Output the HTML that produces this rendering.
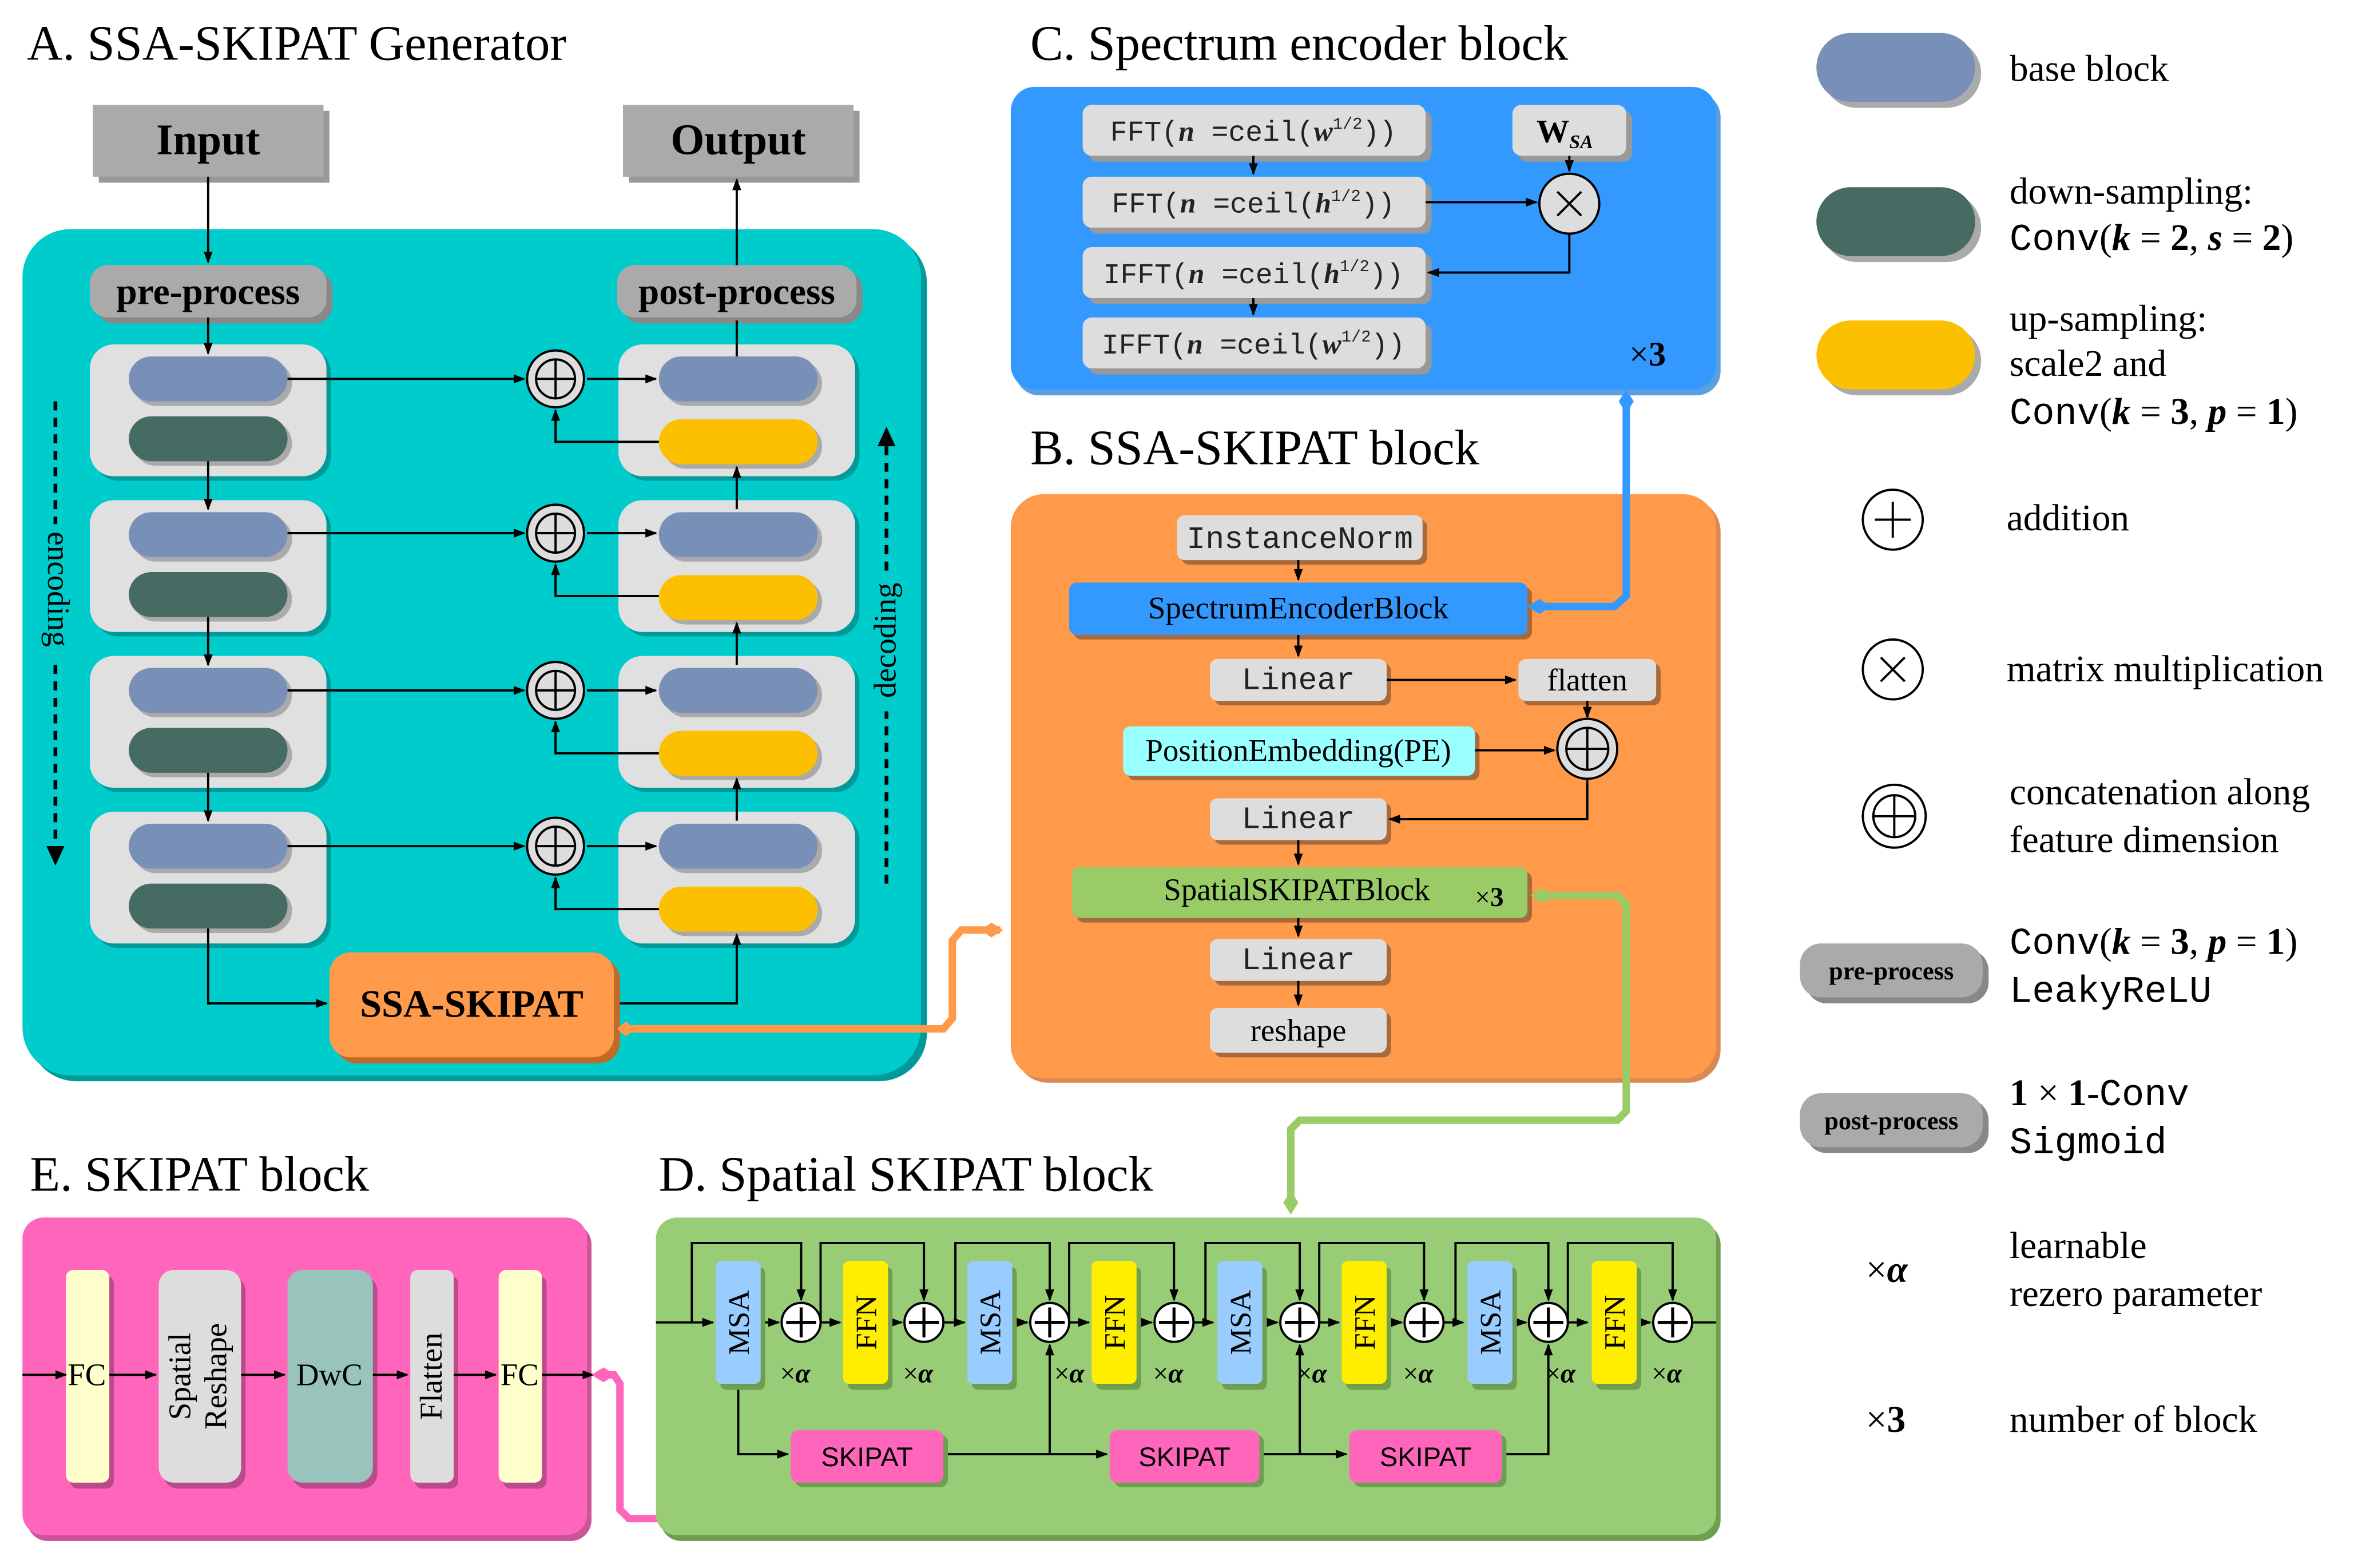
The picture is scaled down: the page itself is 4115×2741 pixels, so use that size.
<!DOCTYPE html>
<html><head><meta charset="utf-8"><style>html,body{margin:0;padding:0;background:#fff}svg{display:block}</style></head>
<body>
<svg width="4115" height="2741" viewBox="0 0 1572 1047" preserveAspectRatio="none" xmlns="http://www.w3.org/2000/svg" font-family="Liberation Serif, serif">
<defs>
<marker id="ar" markerWidth="8" markerHeight="8" refX="7" refY="4" orient="auto" markerUnits="userSpaceOnUse"><path d="M0,1 L8,4 L0,7 Z" fill="#000"/></marker>
</defs>
<rect width="1572" height="1047" fill="#fff"/>

<!-- ===== A ===== -->
<text x="18" y="40" font-size="33">A. SSA-SKIPAT Generator</text>
<rect x="19" y="157" width="600" height="565" rx="32" fill="#009a9a"/>
<rect x="15" y="153" width="600" height="565" rx="32" fill="#00cccc"/>
<rect x="66" y="74" width="154" height="48" fill="#999"/><rect x="62" y="70" width="154" height="48" fill="#aaa"/>
<text x="139" y="103" font-size="29" font-weight="bold" text-anchor="middle">Input</text>
<rect x="420" y="74" width="154" height="48" fill="#999"/><rect x="416" y="70" width="154" height="48" fill="#aaa"/>
<text x="493" y="103" font-size="29" font-weight="bold" text-anchor="middle">Output</text>
<rect x="64" y="181" width="158" height="35" rx="12" fill="#888"/><rect x="60" y="177" width="158" height="35" rx="12" fill="#aaa"/>
<text x="139" y="203" font-size="25" font-weight="bold" text-anchor="middle">pre-process</text>
<rect x="416" y="181" width="160" height="35" rx="12" fill="#888"/><rect x="412" y="177" width="160" height="35" rx="12" fill="#aaa"/>
<text x="492" y="203" font-size="25" font-weight="bold" text-anchor="middle">post-process</text>
<line x1="139" y1="118" x2="139" y2="175" stroke="#000" stroke-width="1.5" marker-end="url(#ar)"/>
<line x1="492" y1="177" x2="492" y2="120" stroke="#000" stroke-width="1.5" marker-end="url(#ar)"/>

<g id="rows">
<g>
<rect x="63" y="233" width="158" height="88" rx="16" fill="#009a9a"/><rect x="60" y="230" width="158" height="88" rx="16" fill="#e0e0e0"/>
<rect x="89" y="241" width="106" height="30" rx="15" fill="#aaa"/><rect x="86" y="238" width="106" height="30" rx="15" fill="#7890b8"/>
<rect x="89" y="281" width="106" height="30" rx="15" fill="#aaa"/><rect x="86" y="278" width="106" height="30" rx="15" fill="#456b63"/>
<rect x="416" y="233" width="158" height="88" rx="16" fill="#009a9a"/><rect x="413" y="230" width="158" height="88" rx="16" fill="#e0e0e0"/>
<rect x="443" y="241" width="106" height="30" rx="15" fill="#aaa"/><rect x="440" y="238" width="106" height="30" rx="15" fill="#7890b8"/>
<rect x="443" y="283" width="106" height="30" rx="15" fill="#aaa"/><rect x="440" y="280" width="106" height="30" rx="15" fill="#fcc000"/>
</g>
</g>
<use href="#rows" y="104"/><use href="#rows" y="208"/><use href="#rows" y="312"/>

<g stroke="#000" stroke-width="1.5" fill="none">
<line x1="192" y1="253" x2="350" y2="253" marker-end="url(#ar)"/><line x1="392" y1="253" x2="438" y2="253" marker-end="url(#ar)"/>
<line x1="192" y1="356" x2="350" y2="356" marker-end="url(#ar)"/><line x1="392" y1="356" x2="438" y2="356" marker-end="url(#ar)"/>
<line x1="192" y1="461" x2="350" y2="461" marker-end="url(#ar)"/><line x1="392" y1="461" x2="438" y2="461" marker-end="url(#ar)"/>
<line x1="192" y1="565" x2="350" y2="565" marker-end="url(#ar)"/><line x1="392" y1="565" x2="438" y2="565" marker-end="url(#ar)"/>
<polyline points="440,295 371,295 371,274" marker-end="url(#ar)"/>
<polyline points="440,398 371,398 371,377" marker-end="url(#ar)"/>
<polyline points="440,503 371,503 371,482" marker-end="url(#ar)"/>
<polyline points="440,607 371,607 371,586" marker-end="url(#ar)"/>
<line x1="139" y1="212" x2="139" y2="236" marker-end="url(#ar)"/>
<line x1="139" y1="308" x2="139" y2="340" marker-end="url(#ar)"/>
<line x1="139" y1="412" x2="139" y2="444" marker-end="url(#ar)"/>
<line x1="139" y1="516" x2="139" y2="548" marker-end="url(#ar)"/>
<line x1="492" y1="238" x2="492" y2="214"/>
<line x1="492" y1="340" x2="492" y2="312" marker-end="url(#ar)"/>
<line x1="492" y1="444" x2="492" y2="416" marker-end="url(#ar)"/>
<line x1="492" y1="548" x2="492" y2="520" marker-end="url(#ar)"/>
<polyline points="139,620 139,670 218,670" marker-end="url(#ar)"/>
<polyline points="410,670 492,670 492,624" marker-end="url(#ar)"/>
<line x1="37" y1="268" x2="37" y2="575" stroke-dasharray="6,5" stroke-width="2.5"/>
<line x1="592" y1="590" x2="592" y2="288" stroke-dasharray="6,5" stroke-width="2.5"/>
</g>
<path d="M31,565 L43,565 L37,578 Z"/><path d="M586,298 L598,298 L592,285 Z"/>
<rect x="30" y="350" width="16" height="90" fill="#00cccc"/><rect x="584" y="385" width="16" height="90" fill="#00cccc"/>
<text font-size="21" transform="translate(32,355) rotate(90)">encoding</text>
<text font-size="21" transform="translate(598,466) rotate(-90)">decoding</text>
<g id="cp"><circle cx="371" cy="253" r="19" fill="#ddd" stroke="#000" stroke-width="1.5"/><circle cx="371" cy="253" r="13" fill="none" stroke="#000" stroke-width="1.5"/><line x1="358" y1="253" x2="384" y2="253" stroke="#000" stroke-width="1.5"/><line x1="371" y1="240" x2="371" y2="266" stroke="#000" stroke-width="1.5"/></g>
<use href="#cp" y="103"/><use href="#cp" y="208"/><use href="#cp" y="312"/>
<rect x="224" y="640" width="190" height="70" rx="14" fill="#c06a28"/><rect x="220" y="636" width="190" height="70" rx="14" fill="#ff9a4a"/>
<text x="315" y="679" font-size="26" font-weight="bold" text-anchor="middle">SSA-SKIPAT</text>

<polyline points="414,687 630,687 636,680 636,628 642,621 668,621" fill="none" stroke="#ff9a4a" stroke-width="5"/>
<path d="M412,687 L418,682 L424,687 L418,692Z" fill="#ff9a4a"/><path d="M655,621 L662,616 L670,621 L662,626Z" fill="#ff9a4a"/>

<!-- ===== C ===== -->
<text x="688" y="40" font-size="33">C. Spectrum encoder block</text>
<rect x="678" y="62" width="471" height="202" rx="16" fill="#5aa0e0"/>
<rect x="675" y="58" width="471" height="202" rx="16" fill="#3399ff"/>
<g font-family="Liberation Mono, monospace" font-size="19" fill="#222">
<rect x="727" y="74" width="229" height="34" rx="6" fill="#999"/><rect x="723" y="70" width="229" height="34" rx="6" fill="#ddd"/>
<text x="837" y="94" text-anchor="middle">FFT(<tspan font-family="Liberation Serif" font-style="italic" font-weight="bold">n</tspan> =ceil(<tspan font-family="Liberation Serif" font-style="italic" font-weight="bold">w</tspan><tspan font-size="11" dy="-8">1/2</tspan><tspan dy="8">))</tspan></text>
<rect x="727" y="122" width="229" height="34" rx="6" fill="#999"/><rect x="723" y="118" width="229" height="34" rx="6" fill="#ddd"/>
<text x="837" y="142" text-anchor="middle">FFT(<tspan font-family="Liberation Serif" font-style="italic" font-weight="bold">n</tspan> =ceil(<tspan font-family="Liberation Serif" font-style="italic" font-weight="bold">h</tspan><tspan font-size="11" dy="-8">1/2</tspan><tspan dy="8">))</tspan></text>
<rect x="727" y="169" width="229" height="34" rx="6" fill="#999"/><rect x="723" y="165" width="229" height="34" rx="6" fill="#ddd"/>
<text x="837" y="189" text-anchor="middle">IFFT(<tspan font-family="Liberation Serif" font-style="italic" font-weight="bold">n</tspan> =ceil(<tspan font-family="Liberation Serif" font-style="italic" font-weight="bold">h</tspan><tspan font-size="11" dy="-8">1/2</tspan><tspan dy="8">))</tspan></text>
<rect x="727" y="216" width="229" height="34" rx="6" fill="#999"/><rect x="723" y="212" width="229" height="34" rx="6" fill="#ddd"/>
<text x="837" y="236" text-anchor="middle">IFFT(<tspan font-family="Liberation Serif" font-style="italic" font-weight="bold">n</tspan> =ceil(<tspan font-family="Liberation Serif" font-style="italic" font-weight="bold">w</tspan><tspan font-size="11" dy="-8">1/2</tspan><tspan dy="8">))</tspan></text>
</g>
<rect x="1014" y="74" width="76" height="34" rx="6" fill="#999"/><rect x="1010" y="70" width="76" height="34" rx="6" fill="#ddd"/>
<text x="1026" y="95" font-size="22" font-weight="bold">W<tspan font-size="13" font-style="italic" dy="4">SA</tspan></text>
<g stroke="#000" stroke-width="1.5" fill="none">
<line x1="837" y1="104" x2="837" y2="116" marker-end="url(#ar)"/>
<line x1="837" y1="199" x2="837" y2="210" marker-end="url(#ar)"/>
<line x1="952" y1="135" x2="1026" y2="135" marker-end="url(#ar)"/>
<line x1="1048" y1="104" x2="1048" y2="114" marker-end="url(#ar)"/>
<polyline points="1048,156 1048,182 954,182" marker-end="url(#ar)"/>
</g>
<circle cx="1048" cy="136" r="20" fill="#ddd" stroke="#000" stroke-width="1.5"/>
<path d="M1040,128 L1056,144 M1056,128 L1040,144" stroke="#000" stroke-width="1.5"/>
<text x="1088" y="244" font-size="23">×<tspan font-weight="bold">3</tspan></text>

<!-- ===== B ===== -->
<text x="688" y="310" font-size="33">B. SSA-SKIPAT block</text>
<rect x="678" y="333" width="471" height="390" rx="22" fill="#d88a52"/>
<rect x="675" y="330" width="471" height="390" rx="22" fill="#ff9a4a"/>
<g font-size="21">
<rect x="789" y="347" width="164" height="30" rx="5" fill="#a86a3a"/><rect x="786" y="344" width="164" height="30" rx="5" fill="#ddd"/>
<text x="868" y="366" text-anchor="middle" font-family="Liberation Mono, monospace" fill="#222">InstanceNorm</text>
<rect x="717" y="392" width="306" height="35" rx="5" fill="#a86a3a"/><rect x="714" y="389" width="306" height="35" rx="5" fill="#3399ff"/>
<text x="867" y="413" text-anchor="middle">SpectrumEncoderBlock</text>
<rect x="811" y="443" width="118" height="28" rx="5" fill="#a86a3a"/><rect x="808" y="440" width="118" height="28" rx="5" fill="#ddd"/>
<text x="867" y="460" text-anchor="middle" font-family="Liberation Mono, monospace" fill="#222">Linear</text>
<rect x="1017" y="443" width="92" height="28" rx="5" fill="#a86a3a"/><rect x="1014" y="440" width="92" height="28" rx="5" fill="#ddd"/>
<text x="1060" y="461" text-anchor="middle">flatten</text>
<rect x="753" y="488" width="235" height="33" rx="5" fill="#a86a3a"/><rect x="750" y="485" width="235" height="33" rx="5" fill="#99ffff"/>
<text x="867" y="508" text-anchor="middle">PositionEmbedding(PE)</text>
<rect x="811" y="536" width="118" height="28" rx="5" fill="#a86a3a"/><rect x="808" y="533" width="118" height="28" rx="5" fill="#ddd"/>
<text x="867" y="553" text-anchor="middle" font-family="Liberation Mono, monospace" fill="#222">Linear</text>
<rect x="719" y="582" width="304" height="34" rx="5" fill="#a86a3a"/><rect x="716" y="579" width="304" height="34" rx="5" fill="#99cc66"/>
<text x="866" y="601" text-anchor="middle">SpatialSKIPATBlock</text>
<text x="985" y="605" font-size="18">×<tspan font-weight="bold">3</tspan></text>
<rect x="811" y="630" width="118" height="28" rx="5" fill="#a86a3a"/><rect x="808" y="627" width="118" height="28" rx="5" fill="#ddd"/>
<text x="867" y="647" text-anchor="middle" font-family="Liberation Mono, monospace" fill="#222">Linear</text>
<rect x="811" y="676" width="118" height="30" rx="5" fill="#a86a3a"/><rect x="808" y="673" width="118" height="30" rx="5" fill="#ddd"/>
<text x="867" y="695" text-anchor="middle">reshape</text>
</g>
<g stroke="#000" stroke-width="1.5" fill="none">
<line x1="867" y1="374" x2="867" y2="387" marker-end="url(#ar)"/>
<line x1="867" y1="424" x2="867" y2="438" marker-end="url(#ar)"/>
<line x1="926" y1="454" x2="1012" y2="454" marker-end="url(#ar)"/>
<line x1="1060" y1="468" x2="1060" y2="479" marker-end="url(#ar)"/>
<line x1="985" y1="501" x2="1038" y2="501" marker-end="url(#ar)"/>
<polyline points="1060,521 1060,547 928,547" marker-end="url(#ar)"/>
<line x1="867" y1="561" x2="867" y2="577" marker-end="url(#ar)"/>
<line x1="867" y1="613" x2="867" y2="625" marker-end="url(#ar)"/>
<line x1="867" y1="655" x2="867" y2="671" marker-end="url(#ar)"/>
</g>
<circle cx="1060" cy="500" r="20" fill="#ddd" stroke="#000" stroke-width="1.5"/><circle cx="1060" cy="500" r="14" fill="none" stroke="#000" stroke-width="1.5"/>
<path d="M1046,500 H1074 M1060,486 V514" stroke="#000" stroke-width="1.5"/>
<polyline points="1086,265 1086,398 1078,405 1026,405" fill="none" stroke="#3399ff" stroke-width="5"/>
<path d="M1086,260 L1091,268 L1086,276 L1081,268Z" fill="#3399ff"/><path d="M1020,405 L1028,400 L1036,405 L1028,410Z" fill="#3399ff"/>
<polyline points="1030,598 1080,598 1086,604 1086,742 1080,748 868,748 862,754 862,800" fill="none" stroke="#99cc66" stroke-width="5"/>
<path d="M1022,598 L1030,593 L1038,598 L1030,603Z" fill="#99cc66"/><path d="M862,795 L867,803 L862,811 L857,803Z" fill="#99cc66"/>

<!-- ===== E ===== -->
<text x="20" y="795" font-size="33">E. SKIPAT block</text>
<rect x="18" y="817" width="377" height="212" rx="14" fill="#cc5599"/>
<rect x="15" y="813" width="377" height="212" rx="14" fill="#ff66bb"/>
<g font-size="21">
<rect x="47" y="852" width="29" height="142" rx="5" fill="#bb4a8a"/><rect x="44" y="848" width="29" height="142" rx="5" fill="#ffffcc"/>
<rect x="109" y="852" width="55" height="142" rx="10" fill="#bb4a8a"/><rect x="106" y="848" width="55" height="142" rx="10" fill="#ddd"/>
<rect x="195" y="852" width="57" height="142" rx="10" fill="#bb4a8a"/><rect x="192" y="848" width="57" height="142" rx="10" fill="#99c4bb"/>
<rect x="277" y="852" width="29" height="142" rx="5" fill="#bb4a8a"/><rect x="274" y="848" width="29" height="142" rx="5" fill="#ddd"/>
<rect x="336" y="852" width="29" height="142" rx="5" fill="#bb4a8a"/><rect x="333" y="848" width="29" height="142" rx="5" fill="#ffffcc"/>
<text x="58" y="925" text-anchor="middle">FC</text>
<text transform="translate(127,919) rotate(-90)" text-anchor="middle">Spatial</text>
<text transform="translate(151,919) rotate(-90)" text-anchor="middle">Reshape</text>
<text x="220" y="925" text-anchor="middle">DwC</text>
<text transform="translate(295,919) rotate(-90)" text-anchor="middle">Flatten</text>
<text x="347" y="925" text-anchor="middle">FC</text>
</g>
<g stroke="#000" stroke-width="1.5" fill="none">
<line x1="15" y1="918" x2="44" y2="918" marker-end="url(#ar)"/>
<line x1="73" y1="918" x2="104" y2="918" marker-end="url(#ar)"/>
<line x1="161" y1="918" x2="190" y2="918" marker-end="url(#ar)"/>
<line x1="249" y1="918" x2="272" y2="918" marker-end="url(#ar)"/>
<line x1="303" y1="918" x2="331" y2="918" marker-end="url(#ar)"/>
<line x1="362" y1="918" x2="396" y2="918" marker-end="url(#ar)"/>
</g>
<polyline points="405,918 410,918 414,924 414,1008 420,1014 572,1014 577,1008 577,998" fill="none" stroke="#ff66bb" stroke-width="5"/>
<path d="M395,918 L403,913 L411,918 L403,923Z" fill="#ff66bb"/><path d="M577,990 L582,998 L577,1006 L572,998Z" fill="#ff66bb"/>

<!-- ===== D ===== -->
<text x="440" y="795" font-size="33">D. Spatial SKIPAT block</text>
<rect x="441" y="817" width="708" height="212" rx="14" fill="#6e9e50"/>
<rect x="438" y="813" width="708" height="212" rx="14" fill="#99cc77"/>
<g stroke="#000" stroke-width="1.5" fill="none">
<line x1="438" y1="883" x2="476" y2="883" marker-end="url(#ar)"/>
<line x1="1130" y1="883" x2="1146" y2="883"/>
<polyline points="462,883 462,830 535,830 535,868" marker-end="url(#ar)"/>
<polyline points="548,883 548,830 617,830 617,868" marker-end="url(#ar)"/>
<polyline points="638,883 638,830 701,830 701,868" marker-end="url(#ar)"/>
<polyline points="714,883 714,830 784,830 784,868" marker-end="url(#ar)"/>
<polyline points="805,883 805,830 868,830 868,868" marker-end="url(#ar)"/>
<polyline points="881,883 881,830 951,830 951,868" marker-end="url(#ar)"/>
<polyline points="972,883 972,830 1034,830 1034,868" marker-end="url(#ar)"/>
<polyline points="1047,883 1047,830 1117,830 1117,868" marker-end="url(#ar)"/>
<line x1="508" y1="883" x2="520" y2="883" marker-end="url(#ar)"/>
<line x1="548" y1="883" x2="561" y2="883" marker-end="url(#ar)"/>
<line x1="593" y1="883" x2="602" y2="883" marker-end="url(#ar)"/>
<line x1="630" y1="883" x2="644" y2="883" marker-end="url(#ar)"/>
<line x1="676" y1="883" x2="686" y2="883" marker-end="url(#ar)"/>
<line x1="714" y1="883" x2="727" y2="883" marker-end="url(#ar)"/>
<line x1="759" y1="883" x2="769" y2="883" marker-end="url(#ar)"/>
<line x1="797" y1="883" x2="810" y2="883" marker-end="url(#ar)"/>
<line x1="842" y1="883" x2="853" y2="883" marker-end="url(#ar)"/>
<line x1="881" y1="883" x2="894" y2="883" marker-end="url(#ar)"/>
<line x1="926" y1="883" x2="936" y2="883" marker-end="url(#ar)"/>
<line x1="964" y1="883" x2="977" y2="883" marker-end="url(#ar)"/>
<line x1="1009" y1="883" x2="1019" y2="883" marker-end="url(#ar)"/>
<line x1="1047" y1="883" x2="1060" y2="883" marker-end="url(#ar)"/>
<line x1="1092" y1="883" x2="1102" y2="883" marker-end="url(#ar)"/>
<polyline points="493,924 493,971 526,971" marker-end="url(#ar)"/>
<polyline points="630,971 701,971 701,898" marker-end="url(#ar)"/>
<line x1="701" y1="971" x2="739" y2="971" marker-end="url(#ar)"/>
<polyline points="841,971 868,971 868,898" marker-end="url(#ar)"/>
<line x1="868" y1="971" x2="899" y2="971" marker-end="url(#ar)"/>
<polyline points="1003,971 1034,971 1034,898" marker-end="url(#ar)"/>
</g>
<g font-size="20">
<g id="msa"><rect x="481" y="846" width="30" height="82" rx="4" fill="#6e9e50"/><rect x="478" y="842" width="30" height="82" rx="4" fill="#99ccff"/></g>
<g id="ffn"><rect x="566" y="846" width="30" height="82" rx="4" fill="#6e9e50"/><rect x="563" y="842" width="30" height="82" rx="4" fill="#ffee00"/></g>
<use href="#msa" x="168"/><use href="#msa" x="335"/><use href="#msa" x="502"/>
<use href="#ffn" x="166"/><use href="#ffn" x="333"/><use href="#ffn" x="500"/>
<text transform="translate(500,883) rotate(-90)" text-anchor="middle">MSA</text>
<text transform="translate(668,883) rotate(-90)" text-anchor="middle">MSA</text>
<text transform="translate(835,883) rotate(-90)" text-anchor="middle">MSA</text>
<text transform="translate(1002,883) rotate(-90)" text-anchor="middle">MSA</text>
<text transform="translate(585,883) rotate(-90)" text-anchor="middle">FFN</text>
<text transform="translate(751,883) rotate(-90)" text-anchor="middle">FFN</text>
<text transform="translate(918,883) rotate(-90)" text-anchor="middle">FFN</text>
<text transform="translate(1085,883) rotate(-90)" text-anchor="middle">FFN</text>
</g>
<g id="sp"><circle cx="535" cy="883" r="13" fill="#fff" stroke="#000" stroke-width="1.5"/><path d="M525,883 H545 M535,873 V893" stroke="#000" stroke-width="2"/></g>
<use href="#sp" x="82"/><use href="#sp" x="166"/><use href="#sp" x="249"/><use href="#sp" x="333"/><use href="#sp" x="416"/><use href="#sp" x="499"/><use href="#sp" x="582"/>
<g font-size="18">
<text x="521" y="923">×<tspan font-style="italic" font-weight="bold">α</tspan></text>
<text x="603" y="923">×<tspan font-style="italic" font-weight="bold">α</tspan></text>
<text x="704" y="923">×<tspan font-style="italic" font-weight="bold">α</tspan></text>
<text x="770" y="923">×<tspan font-style="italic" font-weight="bold">α</tspan></text>
<text x="866" y="923">×<tspan font-style="italic" font-weight="bold">α</tspan></text>
<text x="937" y="923">×<tspan font-style="italic" font-weight="bold">α</tspan></text>
<text x="1032" y="923">×<tspan font-style="italic" font-weight="bold">α</tspan></text>
<text x="1103" y="923">×<tspan font-style="italic" font-weight="bold">α</tspan></text>
</g>
<g font-size="18" font-family="Liberation Sans, sans-serif">
<rect x="531" y="958" width="102" height="35" rx="5" fill="#6e9e50"/><rect x="528" y="955" width="102" height="35" rx="5" fill="#ff66bb"/>
<text x="579" y="979" text-anchor="middle">SKIPAT</text>
<rect x="744" y="958" width="100" height="35" rx="5" fill="#6e9e50"/><rect x="741" y="955" width="100" height="35" rx="5" fill="#ff66bb"/>
<text x="791" y="979" text-anchor="middle">SKIPAT</text>
<rect x="904" y="958" width="102" height="35" rx="5" fill="#6e9e50"/><rect x="901" y="955" width="102" height="35" rx="5" fill="#ff66bb"/>
<text x="952" y="979" text-anchor="middle">SKIPAT</text>
</g>

<!-- ===== Legend ===== -->
<g font-size="25">
<rect x="1217" y="26" width="106" height="46" rx="23" fill="#aaa"/><rect x="1213" y="22" width="106" height="46" rx="23" fill="#7890b8"/>
<text x="1342" y="54">base block</text>
<rect x="1217" y="129" width="106" height="46" rx="23" fill="#aaa"/><rect x="1213" y="125" width="106" height="46" rx="23" fill="#456b63"/>
<text x="1342" y="136">down-sampling:</text>
<text x="1342" y="167"><tspan font-family="Liberation Mono, monospace">Conv</tspan>(<tspan font-style="italic" font-weight="bold">k</tspan> = <tspan font-weight="bold">2</tspan>, <tspan font-style="italic" font-weight="bold">s</tspan> = <tspan font-weight="bold">2</tspan>)</text>
<rect x="1217" y="218" width="106" height="46" rx="23" fill="#aaa"/><rect x="1213" y="214" width="106" height="46" rx="23" fill="#fcc000"/>
<text x="1342" y="221">up-sampling:</text>
<text x="1342" y="251">scale2 and</text>
<text x="1342" y="283"><tspan font-family="Liberation Mono, monospace">Conv</tspan>(<tspan font-style="italic" font-weight="bold">k</tspan> = <tspan font-weight="bold">3</tspan>, <tspan font-style="italic" font-weight="bold">p</tspan> = <tspan font-weight="bold">1</tspan>)</text>
<circle cx="1264" cy="347" r="20" fill="#fff" stroke="#000" stroke-width="1.5"/><path d="M1252,347 H1276 M1264,335 V359" stroke="#000" stroke-width="1.5"/>
<text x="1340" y="354">addition</text>
<circle cx="1264" cy="447" r="20" fill="#fff" stroke="#000" stroke-width="1.5"/><path d="M1256,439 L1272,455 M1272,439 L1256,455" stroke="#000" stroke-width="1.5"/>
<text x="1340" y="455">matrix multiplication</text>
<circle cx="1265" cy="545" r="21" fill="#fff" stroke="#000" stroke-width="1.5"/><circle cx="1265" cy="545" r="14" fill="none" stroke="#000" stroke-width="1.5"/><path d="M1251,545 H1279 M1265,531 V559" stroke="#000" stroke-width="1.5"/>
<text x="1342" y="537">concatenation along</text>
<text x="1342" y="569">feature dimension</text>
<rect x="1206" y="634" width="122" height="36" rx="14" fill="#888"/><rect x="1202" y="630" width="122" height="36" rx="14" fill="#aaa"/>
<text x="1263" y="654" font-size="17" font-weight="bold" text-anchor="middle">pre-process</text>
<text x="1342" y="637"><tspan font-family="Liberation Mono, monospace">Conv</tspan>(<tspan font-style="italic" font-weight="bold">k</tspan> = <tspan font-weight="bold">3</tspan>, <tspan font-style="italic" font-weight="bold">p</tspan> = <tspan font-weight="bold">1</tspan>)</text>
<text x="1342" y="669" font-family="Liberation Mono, monospace">LeakyReLU</text>
<rect x="1206" y="734" width="122" height="36" rx="14" fill="#888"/><rect x="1202" y="730" width="122" height="36" rx="14" fill="#aaa"/>
<text x="1263" y="754" font-size="17" font-weight="bold" text-anchor="middle">post-process</text>
<text x="1342" y="738"><tspan font-weight="bold">1</tspan> × <tspan font-weight="bold">1</tspan>-<tspan font-family="Liberation Mono, monospace">Conv</tspan></text>
<text x="1342" y="770" font-family="Liberation Mono, monospace">Sigmoid</text>
<text x="1246" y="856">×<tspan font-style="italic" font-weight="bold">α</tspan></text>
<text x="1342" y="840">learnable</text>
<text x="1342" y="872">rezero parameter</text>
<text x="1246" y="956">×<tspan font-weight="bold">3</tspan></text>
<text x="1342" y="956">number of block</text>
</g>
</svg>
</body></html>
